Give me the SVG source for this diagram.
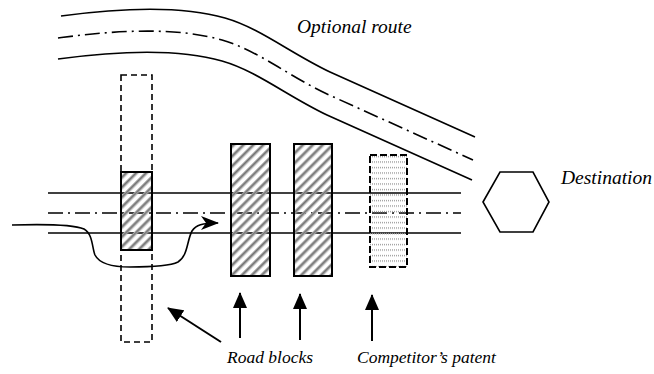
<svg xmlns="http://www.w3.org/2000/svg" width="654" height="374" viewBox="0 0 654 374">
  <style>
    .line { fill: none; stroke: #000; stroke-width: 1.6; }
    .axis { fill: none; stroke: #000; stroke-width: 1.6; stroke-dasharray: 15 5 2 5; }
    .cross { fill: none; stroke: #000; stroke-width: 1.6; stroke-dasharray: 6 4; }
    .block { fill: url(#hatch); stroke: #000; stroke-width: 2; }
    .patent { fill: url(#dots); stroke: #000; stroke-width: 2; stroke-dasharray: 7 3; }
    .ptr { fill: none; stroke: #000; stroke-width: 2; marker-end: url(#head); }
    text { font-family: 'Liberation Serif', 'DejaVu Serif', serif; font-style: italic; fill: #000; }
    .big { font-size: 19.5px; }
    .small { font-size: 17.5px; }
  </style>
  <defs>
    <pattern id="hatch" patternUnits="userSpaceOnUse" width="7" height="7" patternTransform="rotate(45)">
      <rect x="0" y="0" width="3.4" height="7" fill="#a8a8a8"/>
      <rect x="1.2" y="0" width="1" height="7" fill="#666"/>
    </pattern>
    <pattern id="dots" patternUnits="userSpaceOnUse" width="4" height="5.5">
      <line x1="0" y1="2.5" x2="4" y2="2.5" stroke="#999" stroke-width="1.2" stroke-dasharray="1 1"/>
    </pattern>
    <marker id="head" markerUnits="userSpaceOnUse" viewBox="0 0 16 14" refX="15" refY="7" markerWidth="16" markerHeight="14" orient="auto">
      <path d="M0,0 L16,7 L0,14 Z" fill="#000"/>
    </marker>
    <marker id="barb" markerUnits="userSpaceOnUse" viewBox="0 0 18 14" refX="17" refY="7" markerWidth="18" markerHeight="14" orient="auto">
      <path d="M0,0 L18,7 L0,14 L5,7 Z" fill="#000"/>
    </marker>
  </defs>

  <!-- optional route (upper road) -->
  <g id="optional-route">
    <path class="line" d="M61,16 C120,8 180,5 225,18 C260,28 290,53 330,72 L475,137"/>
    <path class="axis" d="M58,38 C117,30 177,27 222,40 C257,50 287,75 327,94 L473,160"/>
    <path class="line" d="M58,59 C117,51 177,48 222,61 C257,71 287,96 327,115 L472,180"/>
    <text class="big" x="297" y="33">Optional route</text>
  </g>

  <!-- main road -->
  <g id="main-road">
    <line class="line" x1="48" y1="193" x2="461" y2="193"/>
    <line class="axis" x1="48" y1="213" x2="461" y2="213"/>
    <line class="line" x1="48" y1="233" x2="461" y2="233"/>
  </g>

  <!-- crossing road -->
  <g id="cross-road">
    <rect class="cross" x="121" y="75" width="31" height="267"/>
  </g>

  <!-- road blocks -->
  <g id="block-1"><rect class="block" x="121" y="172" width="31" height="78"/></g>
  <g id="block-2"><rect class="block" x="231" y="144" width="39" height="132"/></g>
  <g id="block-3"><rect class="block" x="294" y="144" width="38" height="132"/></g>

  <!-- competitor's patent -->
  <g id="patent"><rect class="patent" x="370" y="155" width="37" height="112"/></g>

  <!-- destination -->
  <g id="destination">
    <polygon class="line" points="483,202 500,172 533,172 549,202 533,232 500,232"/>
    <text class="big" x="561" y="184">Destination</text>
  </g>

  <!-- connectors -->
  <g id="connectors">
    <path class="line" marker-end="url(#barb)" d="M12,225 C45,224 72,224 84,229 C93,234 92,248 95,255 C99,263 110,267 130,267 C150,267 170,266 178,262 C188,256 187,240 192,231 C196,225 202,223 218,223"/>
    <line class="ptr" x1="221" y1="342" x2="168" y2="308"/>
    <line class="ptr" x1="240" y1="338" x2="240" y2="293"/>
    <line class="ptr" x1="300" y1="340" x2="300" y2="294"/>
    <line class="ptr" x1="372" y1="341" x2="372" y2="295"/>
  </g>

  <g id="labels">
    <text class="small" x="227" y="363">Road blocks</text>
    <text class="small" x="357" y="363">Competitor’s patent</text>
  </g>
</svg>
